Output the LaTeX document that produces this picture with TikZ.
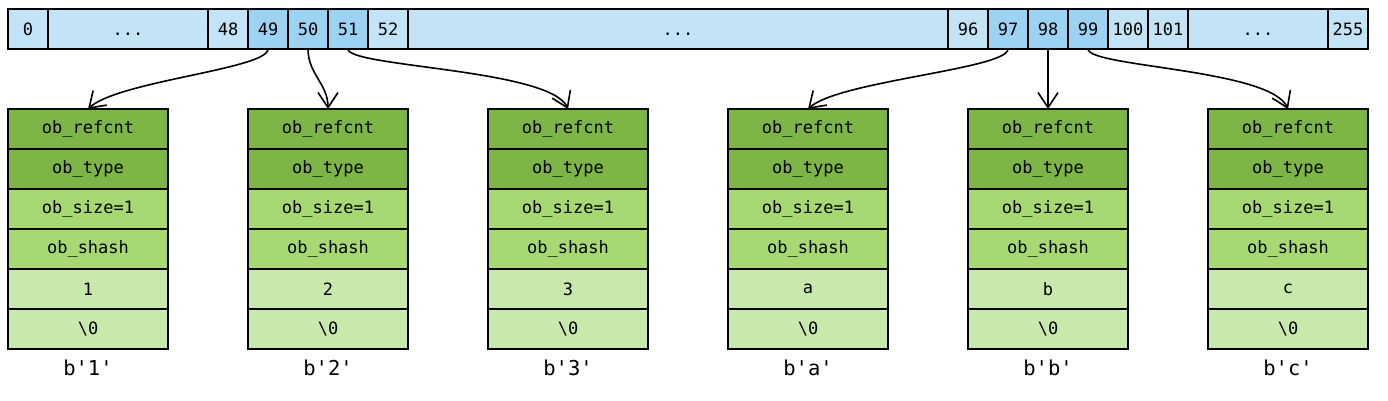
\documentclass[tikz,border=0pt]{standalone}
\usepackage{fontspec}
\setmonofont{DejaVu Sans Mono}
\usetikzlibrary{positioning, arrows.meta}
\definecolor{idxblue}{RGB}{194,228,246}
\definecolor{hitblue}{RGB}{156,210,242}
\definecolor{hdrgreen}{RGB}{125,182,71}
\definecolor{lengreen}{RGB}{166,217,114}
\definecolor{datgreen}{RGB}{200,232,172}

\begin{document}
\begin{tikzpicture}[x=1pt, y=1pt, font=\ttfamily\fontsize{17}{20}\selectfont,
  cell/.style={rectangle, draw=black, line width=1.6pt, minimum height=40pt, minimum width=40pt, inner sep=0pt, outer sep=0pt, fill=idxblue},
  idx/.style={cell, text height=12.4pt, text depth=0pt},
  field/.style={cell, minimum width=160pt},
  link/.style={->, line width=1.6pt},
  >={Straight Barb[length=15pt, width=20pt]}]
%
\useasboundingbox (0,0) rectangle (1388,-401);

% CHARACTER CACHE
\node [idx] (i0) at (28,-29) {0};
\node [idx, minimum width=160pt, right=0pt of i0] (dotsA) {...};
\node [idx, right=0pt of dotsA] (i48) {48};
\node [idx, fill=hitblue, right=0pt of i48] (i49) {49};
\node [idx, fill=hitblue, right=0pt of i49] (i50) {50};
\node [idx, fill=hitblue, right=0pt of i50] (i51) {51};
\node [idx, right=0pt of i51] (i52) {52};
\node [idx, minimum width=540pt, right=0pt of i52] (dotsB) {...};
\node [idx, right=0pt of dotsB] (i96) {96};
\node [idx, fill=hitblue, right=0pt of i96] (i97) {97};
\node [idx, fill=hitblue, right=0pt of i97] (i98) {98};
\node [idx, fill=hitblue, right=0pt of i98] (i99) {99};
\node [idx, right=0pt of i99] (i100) {100};
\node [idx, right=0pt of i100] (i101) {101};
\node [idx, minimum width=140pt, right=0pt of i101] (dotsC) {...};
\node [idx, right=0pt of dotsC] (i255) {255};

% BYTES OBJECTS
\foreach \ch/\xx [count=\n] in {1/88, 2/328, 3/568, a/808, b/1048, c/1288} {
  \node [field, fill=hdrgreen] (refcnt\n) at (\xx,-129) {ob\_refcnt};
  \node [field, fill=hdrgreen, below=0pt of refcnt\n] (type\n) {ob\_type};
  \node [field, fill=lengreen, below=0pt of type\n] (size\n) {ob\_size=1};
  \node [field, fill=lengreen, below=0pt of size\n] (shash\n) {ob\_shash};
  \node [field, fill=datgreen, below=0pt of shash\n] (char\n) {\ch};
  \node [field, fill=datgreen, below=0pt of char\n] (nul\n) {\textbackslash0};
  \node [font=\ttfamily\fontsize{20.5}{24}\selectfont, inner sep=0pt, below=11pt of nul\n] (lbl\n) {b'\ch'};
}

\draw [link] (i49.south) .. controls +(0,-20) and +(30,28) .. (refcnt1.north);
\draw [link] (i50.south) .. controls +(0,-25) and +(0,25) .. (refcnt2.north);
\draw [link] (i51.south) .. controls +(0,-18) and +(-18,40) .. (refcnt3.north);
\draw [link] (i97.south) .. controls +(0,-20) and +(30,28) .. (refcnt4.north);
\draw [link] (i98.south) -- (refcnt5.north);
\draw [link] (i99.south) .. controls +(0,-18) and +(-18,40) .. (refcnt6.north);
\end{tikzpicture}
\end{document}
